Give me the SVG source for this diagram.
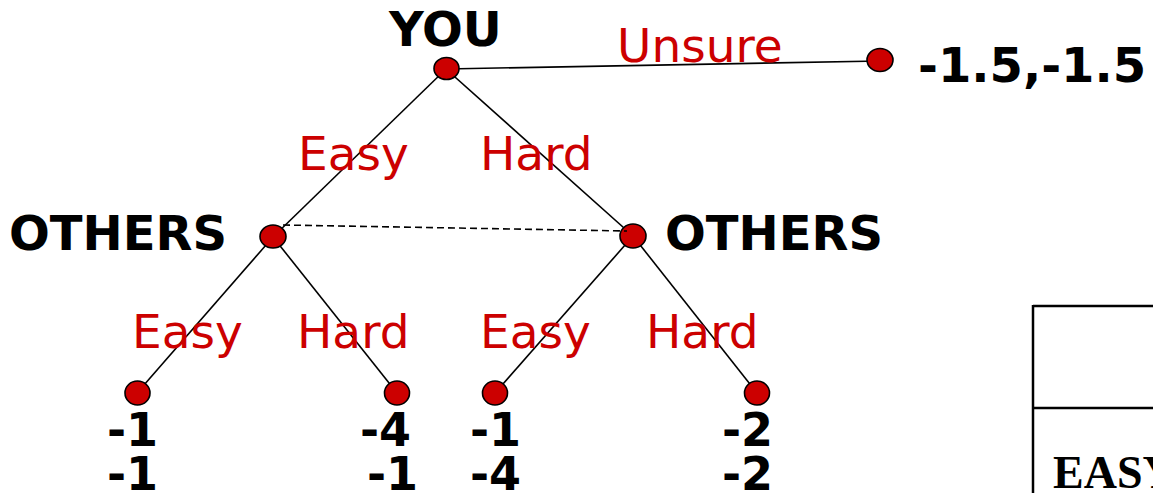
<svg xmlns="http://www.w3.org/2000/svg" width="1153" height="493" viewBox="0 0 1153 493">
<style>
.edge{stroke:#000;stroke-width:1.6;fill:none}
.dash{stroke:#000;stroke-width:1.6;fill:none;stroke-dasharray:7,4}
.node{fill:#CC0000;stroke:#000;stroke-width:1.6}
.bold{font-family:"DejaVu Sans",Verdana,sans-serif;font-weight:bold;font-size:48px;fill:#000}
.num{font-family:"DejaVu Sans",Verdana,sans-serif;font-weight:bold;font-size:46px;fill:#000}
.lbl{font-family:"DejaVu Sans",Verdana,sans-serif;font-size:47px;fill:#CC0000}
.tbl{stroke:#000;stroke-width:2.5;fill:none}
.serif{font-family:"Liberation Serif","Times New Roman",serif;font-weight:bold;font-size:46px;fill:#000}
</style>
<rect width="1153" height="493" fill="#fff"/>
<g id="connectors">
<line class="edge" x1="446" y1="69" x2="880" y2="61"/>
<line class="edge" x1="446" y1="69" x2="273" y2="237"/>
<line class="edge" x1="446" y1="69" x2="633" y2="236"/>
<line class="edge" x1="273" y1="237" x2="137" y2="393"/>
<line class="edge" x1="273" y1="237" x2="397" y2="393"/>
<line class="edge" x1="633" y1="236" x2="495" y2="393"/>
<line class="edge" x1="633" y1="236" x2="757" y2="393"/>
<text class="lbl" x="617" y="62">Unsure</text>
<text class="lbl" x="298" y="170">Easy</text>
<text class="lbl" x="480" y="170">Hard</text>
<text class="lbl" x="132" y="348">Easy</text>
<text class="lbl" x="297" y="348">Hard</text>
<text class="lbl" x="480" y="348">Easy</text>
<text class="lbl" x="646" y="348">Hard</text>
</g>
<g id="you">
<ellipse class="node" cx="446.5" cy="68.5" rx="12.5" ry="11"/>
<text class="bold" x="389" y="46">YOU</text>
</g>
<g id="unsure-end">
<ellipse class="node" cx="880" cy="60" rx="13" ry="11.5"/>
<text class="bold" x="918" y="82">-1.5,-1.5</text>
</g>
<g id="others-left">
<ellipse class="node" cx="273" cy="236.5" rx="13" ry="11.5"/>
<text class="bold" x="9" y="250">OTHERS</text>
</g>
<g id="others-right">
<ellipse class="node" cx="633" cy="236" rx="13" ry="12"/>
<text class="bold" x="665" y="250">OTHERS</text>
</g>
<g id="leaf-ee">
<ellipse class="node" cx="137.5" cy="393" rx="12.5" ry="12"/>
<text class="num" x="107" y="446">-1</text>
<text class="num" x="107" y="490">-1</text>
</g>
<g id="leaf-eh">
<ellipse class="node" cx="397" cy="393" rx="12.5" ry="12"/>
<text class="num" x="360" y="446">-4</text>
<text class="num" x="367" y="490">-1</text>
</g>
<g id="leaf-he">
<ellipse class="node" cx="495" cy="393" rx="12.5" ry="12"/>
<text class="num" x="470" y="446">-1</text>
<text class="num" x="470" y="490">-4</text>
</g>
<g id="leaf-hh">
<ellipse class="node" cx="757" cy="393" rx="12.5" ry="12"/>
<text class="num" x="722" y="446">-2</text>
<text class="num" x="722" y="490">-2</text>
</g>
<g id="info-set">
<line class="dash" x1="283" y1="225" x2="627" y2="231"/>
</g>
<g id="table">
<line class="tbl" x1="1033" y1="306" x2="1153" y2="306"/>
<line class="tbl" x1="1033" y1="408" x2="1153" y2="408"/>
<line class="tbl" x1="1033" y1="305" x2="1033" y2="493"/>
<text class="serif" x="1053" y="488">EASY</text>
</g>
</svg>
